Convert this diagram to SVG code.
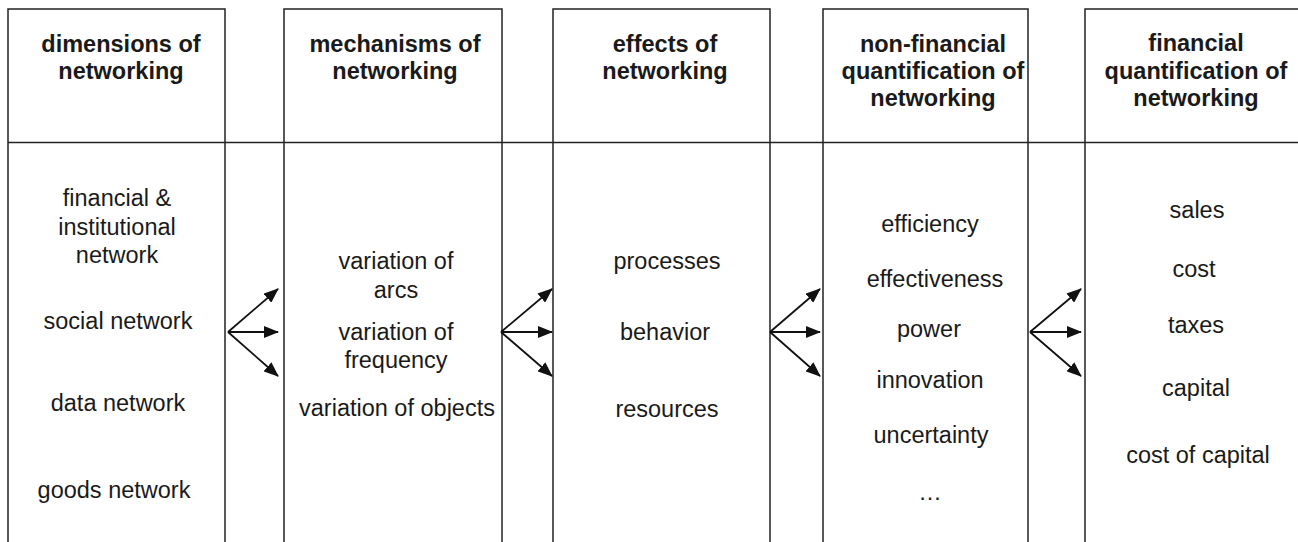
<svg xmlns="http://www.w3.org/2000/svg" width="1298" height="542" viewBox="0 0 1298 542">
<style>
.box{fill:#fff;stroke:#222;stroke-width:1.5}
.hd{font-family:"Liberation Sans",Arial,sans-serif;font-size:23.5px;font-weight:bold;fill:#1a1a1a;text-anchor:middle}
.tx{font-family:"Liberation Sans",Arial,sans-serif;font-size:23.5px;fill:#1a1a1a;text-anchor:middle}
.con{stroke:#111;stroke-width:1.8;fill:none;marker-end:url(#ah)}
</style>
<defs>
<marker id="ah" markerWidth="15" markerHeight="12" refX="14" refY="6" orient="auto" markerUnits="userSpaceOnUse">
<path d="M0,0 L15,6 L0,12 Z" fill="#111"/>
</marker>
</defs>
<rect width="1298" height="542" fill="#fff"/>
<g id="col1">
<rect class="box" x="8" y="9" width="217" height="560"/>
<text class="hd" x="121" y="52">dimensions of</text>
<text class="hd" x="121" y="79">networking</text>
<text class="tx" x="117" y="206">financial &amp;</text>
<text class="tx" x="117" y="235">institutional</text>
<text class="tx" x="117" y="263">network</text>
<text class="tx" x="118" y="329">social network</text>
<text class="tx" x="118" y="411">data network</text>
<text class="tx" x="114" y="498">goods network</text>
</g>
<g id="col2">
<rect class="box" x="284" y="9" width="218" height="560"/>
<text class="hd" x="395" y="52">mechanisms of</text>
<text class="hd" x="395" y="79">networking</text>
<text class="tx" x="396" y="269">variation of</text>
<text class="tx" x="396" y="298">arcs</text>
<text class="tx" x="396" y="340">variation of</text>
<text class="tx" x="396" y="368">frequency</text>
<text class="tx" x="397" y="416">variation of objects</text>
</g>
<g id="col3">
<rect class="box" x="553" y="9" width="217" height="560"/>
<text class="hd" x="665" y="52">effects of</text>
<text class="hd" x="665" y="79">networking</text>
<text class="tx" x="667" y="269">processes</text>
<text class="tx" x="665" y="340">behavior</text>
<text class="tx" x="667" y="417">resources</text>
</g>
<g id="col4">
<rect class="box" x="823" y="9" width="205" height="560"/>
<text class="hd" x="933" y="52">non-financial</text>
<text class="hd" x="933" y="79">quantification of</text>
<text class="hd" x="933" y="106">networking</text>
<text class="tx" x="930" y="232">efficiency</text>
<text class="tx" x="935" y="287">effectiveness</text>
<text class="tx" x="929" y="337">power</text>
<text class="tx" x="930" y="388">innovation</text>
<text class="tx" x="931" y="443">uncertainty</text>
<text class="tx" x="930" y="500">…</text>
</g>
<g id="col5">
<rect class="box" x="1085" y="9" width="300" height="560"/>
<text class="hd" x="1196" y="51">financial</text>
<text class="hd" x="1196" y="79">quantification of</text>
<text class="hd" x="1196" y="106">networking</text>
<text class="tx" x="1197" y="218">sales</text>
<text class="tx" x="1194" y="277">cost</text>
<text class="tx" x="1196" y="333">taxes</text>
<text class="tx" x="1196" y="396">capital</text>
<text class="tx" x="1198" y="463">cost of capital</text>
</g>
<line x1="8" y1="142.5" x2="1298" y2="142.5" stroke="#222" stroke-width="1.5"/>
<g id="connectors">
<path class="con" d="M228,332 L278,289"/>
<path class="con" d="M228,332 L278,332"/>
<path class="con" d="M228,332 L278,376"/>
<path class="con" d="M501,332 L552,289"/>
<path class="con" d="M501,332 L552,332"/>
<path class="con" d="M501,332 L552,376"/>
<path class="con" d="M770,332 L820,289"/>
<path class="con" d="M770,332 L820,332"/>
<path class="con" d="M770,332 L820,376"/>
<path class="con" d="M1030,332 L1081,289"/>
<path class="con" d="M1030,332 L1081,332"/>
<path class="con" d="M1030,332 L1081,376"/>
</g>
</svg>
